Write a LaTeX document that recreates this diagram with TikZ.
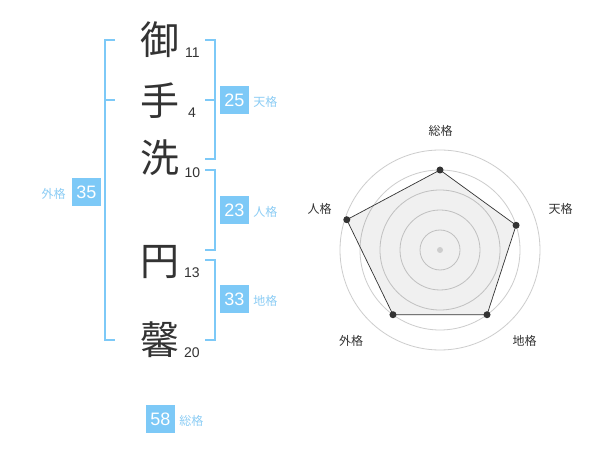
\documentclass[tikz,border=0pt]{standalone}
\usepackage{fontspec}
\setmainfont{Liberation Sans}
\newfontfamily\jp{Noto Sans CJK JP}
\usetikzlibrary{positioning}

\definecolor{kakublue}{RGB}{125,201,247}
\definecolor{labelblue}{RGB}{140,205,245}
\definecolor{ink}{RGB}{51,51,51}
\definecolor{ringgray}{RGB}{205,205,205}

\begin{document}
\begin{tikzpicture}[
  x=1pt, y=-1pt,
  kanji/.style={text=ink, inner sep=0, font=\jp\fontsize{39}{39}\selectfont},
  strokes/.style={text=ink, inner sep=0, font=\fontsize{14}{14}\selectfont},
  score/.style={fill=kakublue, text=white, inner sep=0, minimum width=29pt, minimum height=28pt, font=\fontsize{18}{18}\selectfont},
  kaku/.style={text=labelblue, inner sep=0, font=\jp\fontsize{12}{12}\selectfont},
  bracket/.style={draw=kakublue, line width=2pt},
  axis/.style={text=ink, inner sep=0, font=\jp\fontsize{12}{12}\selectfont},
  ring/.style={draw=ringgray, line width=0.8pt},
  dot/.style={circle, fill=ink, inner sep=0, minimum size=7pt}
]
\useasboundingbox[fill=white] (0,0) rectangle (600,470);

\node[kanji] (K1) at (160,40) {御};
\node[kanji] (K2) at (160,101) {手};
\node[kanji] (K3) at (160,158) {洗};
\node[kanji] (K4) at (160,262) {円};
\node[kanji] (K5) at (160,340) {馨};

\node[strokes] (S1) at (192.5,53) {11};
\node[strokes] (S2) at (192,113) {4};
\node[strokes] (S3) at (192.5,172.5) {10};
\node[strokes] (S4) at (192,272.5) {13};
\node[strokes] (S5) at (192,352.5) {20};

% outer bracket
\draw[bracket] (115,40) -- (105,40) -- (105,340) -- (115,340);
\draw[bracket] (105,100) -- (115,100);

% inner brackets
\foreach \a/\b in {40/159,170/250,260/340} {
  \draw[bracket] (205,\a) -- (215,\a) -- (215,\b) -- (205,\b);
}
\draw[bracket] (205,100) -- (215,100);

\node[score] (TEN) at (234.5,100) {25};
\node[kaku, base right=4pt of TEN] (TENl) {天格};
\node[score] (JIN) at (234.5,210.5) {23};
\node[kaku, base right=4pt of JIN] (JINl) {人格};
\node[score] (CHI) at (234.5,299.5) {33};
\node[kaku, base right=4pt of CHI] (CHIl) {地格};
\node[score] (GAI) at (86.5,192.5) {35};
\node[kaku, base left=6pt of GAI] (GAIl) {外格};
\node[score] (SOU) at (160.5,419) {58};
\node[kaku, base right=4pt of SOU] (SOUl) {総格};

% radar
\coordinate (C) at (440,250);
\foreach \ang/\rad/\n in {-90/80/P1,-18/80/P2,54/80/P3,126/80/P4,198/98/P5} {
  \coordinate (\n) at ([shift={(\ang:\rad)}]C);
}
\foreach \rad in {20,40,60,80,100} {
  \draw[ring] (C) circle[radius=\rad pt];
}
\filldraw[fill=black, fill opacity=0.06, draw=ink, line width=0.7pt]
  (P1) -- (P2) -- (P3) -- (P4) -- (P5) -- cycle;
\foreach \n in {P1,P2,P3,P4,P5} {
  \node[dot] (D\n) at (\n) {};
}
\node[circle, fill=ringgray, inner sep=0, minimum size=6pt] (O) at (C) {};

\node[axis] (A1) at (440.5,131) {総格};
\node[axis] (A2) at (560.5,209) {天格};
\node[axis] (A3) at (319.5,209) {人格};
\node[axis] (A4) at (524.5,341) {地格};
\node[axis] (A5) at (351,341) {外格};

\end{tikzpicture}
\end{document}
